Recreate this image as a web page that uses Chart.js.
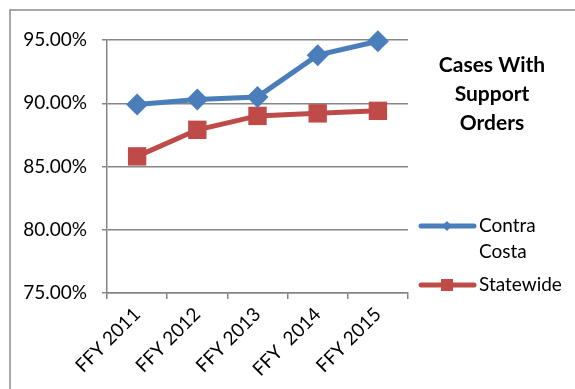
<!DOCTYPE html>
<html>
<head>
<meta charset="utf-8">
<script src="https://cdn.jsdelivr.net/npm/chart.js@4.4.1/dist/chart.umd.min.js"></script>
<style>
  html, body { margin: 0; padding: 0; background: #ffffff; }
  #wrap { width: 575px; height: 389px; position: relative; }
</style>
</head>
<body>
<div id="wrap"><canvas id="c" width="575" height="389"></canvas></div>
<script>
// Fiscal years on the category axis
const categories = ['FFY 2011', 'FFY 2012', 'FFY 2013', 'FFY  2014', 'FFY 2015'];
// Share of cases with support orders, in percent
const contraCosta = [89.9, 90.3, 90.5, 93.8, 94.9];
const statewide = [85.8, 87.9, 89.0, 89.2, 89.4];
// Value axis ticks
const yTicks = [75, 80, 85, 90, 95];
const chartTitle = ['Cases With', 'Support', 'Orders'];

const FONT = 'Lato, "DejaVu Sans", sans-serif';
const AXIS_GRAY = '#868686';
const BLUE = '#4A7EBB';
const RED = '#BE4B48';

// Outer frame, side title and wrapped legend drawn around the plot
const decorations = {
  id: 'decorations',
  beforeDraw(chart) {
    const ctx = chart.ctx;
    ctx.save();
    ctx.strokeStyle = '#8c8c8c';
    ctx.lineWidth = 1.5;
    ctx.beginPath();
    ctx.moveTo(10, 389);
    ctx.lineTo(10, 10);
    ctx.lineTo(575, 10);
    ctx.stroke();
    ctx.restore();
  },
  afterDraw(chart) {
    const ctx = chart.ctx;
    ctx.save();
    // title
    ctx.fillStyle = '#000000';
    ctx.font = 'bold 21px ' + FONT;
    ctx.textAlign = 'center';
    ctx.textBaseline = 'middle';
    chartTitle.forEach((line, i) => ctx.fillText(line, 492, 65 + i * 29));

    // legend
    ctx.font = '19px ' + FONT;
    ctx.textAlign = 'left';
    const rows = [226, 285];
    chart.data.datasets.forEach((ds, i) => {
      const y = rows[i];
      ctx.strokeStyle = ds.borderColor;
      ctx.lineWidth = 5;
      ctx.lineCap = 'round';
      ctx.beginPath();
      ctx.moveTo(421, y);
      ctx.lineTo(474, y);
      ctx.stroke();
      ctx.fillStyle = ds.pointBackgroundColor;
      ctx.beginPath();
      if (ds.pointStyle === 'rectRot') {
        const r = 5;
        ctx.moveTo(447, y - r); ctx.lineTo(447 + r, y);
        ctx.lineTo(447, y + r); ctx.lineTo(447 - r, y);
        ctx.closePath();
      } else {
        ctx.rect(447 - 6, y - 6, 12, 12);
      }
      ctx.fill();
      // wrap label words into lines
      const words = ds.label.split(' ');
      const lines = [];
      let cur = '';
      words.forEach(w => {
        const t = cur ? cur + ' ' + w : w;
        if (ctx.measureText(t).width > 88 && cur) { lines.push(cur); cur = w; }
        else cur = t;
      });
      lines.push(cur);
      ctx.fillStyle = '#000000';
      lines.forEach((l, k) => ctx.fillText(l, 479, y + k * 26));
    });
    ctx.restore();
  }
};

new Chart(document.getElementById('c'), {
  type: 'line',
  data: {
    labels: categories,
    datasets: [
      {
        label: 'Contra Costa',
        data: contraCosta,
        borderColor: BLUE,
        backgroundColor: BLUE,
        pointBackgroundColor: BLUE,
        pointBorderColor: BLUE,
        pointStyle: 'rectRot',
        pointRadius: 11,
        pointBorderWidth: 0,
        borderWidth: 5,
        tension: 0,
        clip: false
      },
      {
        label: 'Statewide',
        data: statewide,
        borderColor: RED,
        backgroundColor: RED,
        pointBackgroundColor: RED,
        pointBorderColor: RED,
        pointStyle: 'rect',
        pointRadius: 13,
        pointBorderWidth: 0,
        borderWidth: 5,
        tension: 0,
        clip: false
      }
    ]
  },
  options: {
    responsive: false,
    animation: false,
    devicePixelRatio: 1,
    layout: { padding: { top: 40, right: 167, left: 0, bottom: 0 } },
    plugins: { legend: { display: false }, title: { display: false }, tooltip: { enabled: false } },
    scales: {
      x: {
        type: 'category',
        offset: true,
        afterFit(scale) { scale.height = 96; },
        grid: { offset: true, drawOnChartArea: false, color: AXIS_GRAY, lineWidth: 1.5, tickLength: 6 },
        border: { color: AXIS_GRAY, width: 1.5 },
        ticks: { maxRotation: 45, minRotation: 45, color: '#000000', font: { family: FONT, size: 19 }, padding: 4, autoSkip: false }
      },
      y: {
        min: yTicks[0],
        max: yTicks[yTicks.length - 1],
        afterFit(scale) { scale.width = 107; },
        afterBuildTicks(scale) { scale.ticks = yTicks.map(v => ({ value: v })); },
        grid: { color: AXIS_GRAY, lineWidth: 1.5, tickLength: 5 },
        border: { color: AXIS_GRAY, width: 1.5 },
        ticks: {
          color: '#000000',
          font: { family: FONT, size: 19 },
          padding: 15,
          callback: v => v.toFixed(2) + '%'
        }
      }
    }
  },
  plugins: [decorations]
});
</script>
</body>
</html>
